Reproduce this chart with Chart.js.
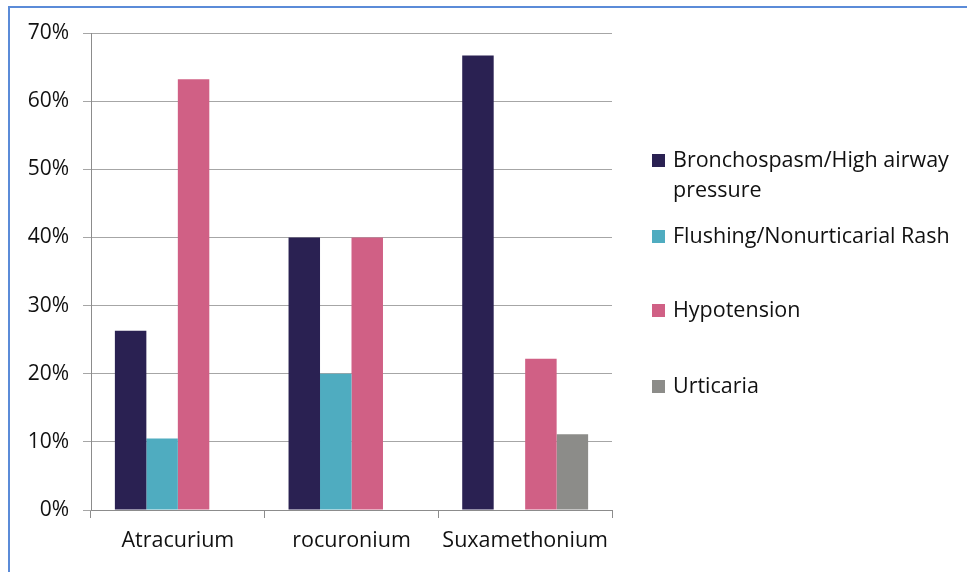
<!DOCTYPE html>
<html>
<head>
<meta charset="utf-8">
<script src="https://cdn.jsdelivr.net/npm/chart.js@4/dist/chart.umd.min.js"></script>
<style>
  html, body { margin: 0; padding: 0; background: #fff; overflow: hidden; }
  #wrap { position: relative; width: 967px; height: 572px; }
  #frame { position: absolute; left: 8px; top: 6px; width: 1000px; height: 600px; border-left: 2px solid #5b8bd8; border-top: 2px solid #5b8bd8; }
  canvas { position: absolute; left: 0; top: 0; }
</style>
</head>
<body>
<div id="wrap">
  <div id="frame"></div>
  <canvas id="chart" width="967" height="572"></canvas>
</div>
<script>
const categories = ['Atracurium', 'rocuronium', 'Suxamethonium'];
const bronchospasm = [26.3, 40, 66.7];
const flushing = [10.5, 20, 0];
const hypotension = [63.2, 40, 22.2];
const urticaria = [0, 0, 11.1];
const yTicks = [0, 10, 20, 30, 40, 50, 60, 70];

const FONT = '"Open Sans", "Liberation Sans", sans-serif';

const series = [
  { label: ['Bronchospasm/High airway', 'pressure'], data: bronchospasm, color: '#2a2152' },
  { label: ['Flushing/Nonurticarial Rash'], data: flushing, color: '#4facc0' },
  { label: ['Hypotension'], data: hypotension, color: '#d06085' },
  { label: ['Urticaria'], data: urticaria, color: '#8c8c89' }
];

// legend on the right, with a wrapped first entry
const sideLegend = {
  id: 'sideLegend',
  afterDraw(chart) {
    const ctx = chart.ctx;
    const rows = [161, 237, 311, 387];
    ctx.save();
    ctx.font = '21.5px ' + FONT;
    ctx.textBaseline = 'middle';
    chart.data.datasets.forEach((ds, i) => {
      const y = rows[i];
      ctx.fillStyle = ds.backgroundColor;
      ctx.fillRect(652, y - 7, 13, 13);
      ctx.fillStyle = '#111';
      ds.fullLabel.forEach((line, j) => ctx.fillText(line, 673, y + j * 30));
    });
    ctx.restore();
  }
};

new Chart(document.getElementById('chart'), {
  type: 'bar',
  data: {
    labels: categories,
    datasets: series.map((s) => ({
      label: s.label.join(' '),
      fullLabel: s.label,
      data: s.data,
      backgroundColor: s.color,
      borderWidth: 0
    }))
  },
  options: {
    responsive: false,
    animation: false,
    layout: { padding: { left: 0, top: 33, right: 355, bottom: 0 } },
    plugins: { legend: { display: false }, tooltip: { enabled: false } },
    datasets: { bar: { barPercentage: 1, categoryPercentage: 0.725 } },
    scales: {
      x: {
        offset: true,
        grid: { display: true, drawOnChartArea: false, offset: true, color: '#8c8c8c', tickLength: 8, tickColor: '#8c8c8c' },
        border: { color: '#8c8c8c', width: 1 },
        ticks: { color: '#111', font: { family: FONT, size: 21.5 }, padding: 10 },
        afterFit: (s) => { s.height = 62; }
      },
      y: {
        min: 0,
        max: 70,
        afterBuildTicks: (s) => { s.ticks = yTicks.map((v) => ({ value: v })); },
        grid: { color: '#a6a6a6', tickLength: 8, tickColor: '#a6a6a6' },
        border: { color: '#8c8c8c', width: 1 },
        ticks: { color: '#111', font: { family: FONT, size: 21 }, padding: 14, callback: (v) => v + '%' },
        afterFit: (s) => { s.width = 91; }
      }
    }
  },
  plugins: [sideLegend]
});
</script>
</body>
</html>
